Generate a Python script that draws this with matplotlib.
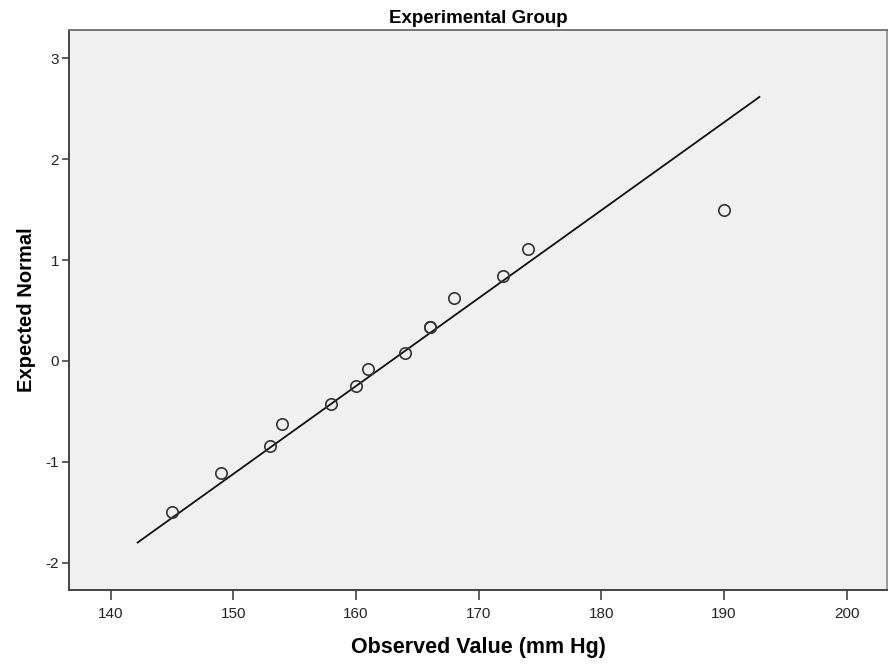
import matplotlib

matplotlib.use("Agg")

import matplotlib.pyplot as plt  # noqa: E402
import numpy as np  # noqa: E402

# normal Q-Q plot
observed = [145, 149, 153, 154, 158, 160, 161, 164, 166, 166, 168, 172, 174, 190]
expected = [-1.50, -1.11, -0.84, -0.62, -0.43, -0.25, -0.08, 0.08, 0.34, 0.34,
            0.62, 0.84, 1.11, 1.50]
line_x_range = [142.2, 192.9]
x_ticks = [140, 150, 160, 170, 180, 190, 200]
y_ticks = [-2, -1, 0, 1, 2, 3]

TEXT = "#000000"
SPINE = "#444444"
PLOT_BG = "#F0F0F0"

plt.rcParams["font.family"] = ["Liberation Sans", "DejaVu Sans"]
plt.rcParams["axes.unicode_minus"] = False

figure = plt.figure(figsize=(8.91, 6.64), dpi=100)
axis = figure.add_axes([0.0774, 0.1114, 0.9181, 0.8434])
axis.set_facecolor(PLOT_BG)

# reference line: standardised values of the data
values = np.array(observed, dtype=float)
mean, sd = values.mean(), values.std(ddof=1)
line_x = np.array(line_x_range)
axis.plot(line_x, (line_x - mean) / sd, color="#111111", linewidth=1.3, zorder=2)

axis.plot(
    observed,
    expected,
    linestyle="none",
    marker="o",
    markersize=8.2,
    markerfacecolor="none",
    markeredgecolor="#333333",
    markeredgewidth=1.2,
    zorder=3,
)

axis.set_xlim(136.6, 203.3)
axis.set_ylim(-2.27, 3.28)
axis.set_xticks(x_ticks)
axis.set_yticks(y_ticks)
axis.tick_params(direction="out", length=5, width=1.2, color=SPINE,
                 labelsize=11, labelcolor="#222222", pad=2)
axis.tick_params(axis="x", length=7, pad=5.5)

for side in ("left", "bottom", "top", "right"):
    axis.spines[side].set_color(SPINE)
    axis.spines[side].set_linewidth(1.4)
axis.spines["top"].set_color("#777777")
axis.spines["right"].set_color("#999999")

axis.set_title("Experimental Group", fontsize=13.5, fontweight="bold",
               color=TEXT, pad=5)
axis.set_xlabel("Observed Value (mm Hg)", fontsize=15.5, fontweight="bold",
                color=TEXT, labelpad=11.5)
axis.set_ylabel("Expected Normal", fontsize=14.5, fontweight="bold",
                color=TEXT, labelpad=7)

figure.savefig("out.png", dpi=100)
plt.close(figure)
